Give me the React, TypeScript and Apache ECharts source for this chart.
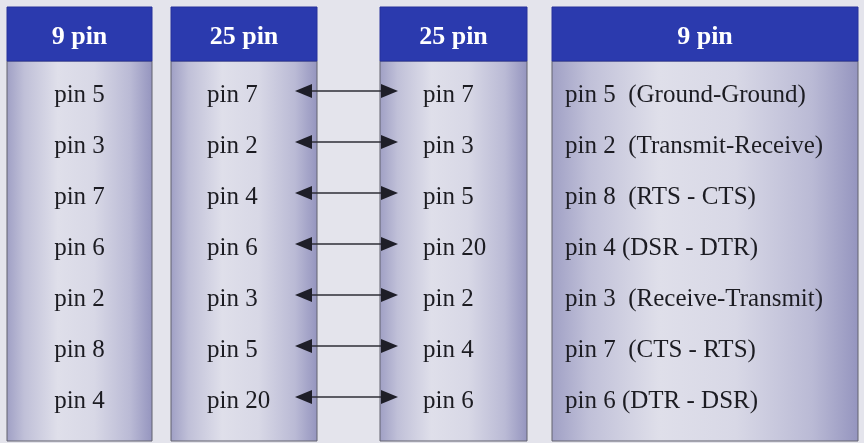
import React, { useEffect, useRef } from "react";
import * as echarts from "echarts";

const headers = ["9 pin", "25 pin", "25 pin", "9 pin"];
const nineSide = ["pin 5", "pin 3", "pin 7", "pin 6", "pin 2", "pin 8", "pin 4"];
const leftDB25 = ["pin 7", "pin 2", "pin 4", "pin 6", "pin 3", "pin 5", "pin 20"];
const rightDB25 = ["pin 7", "pin 3", "pin 5", "pin 20", "pin 2", "pin 4", "pin 6"];
const signals = [
  "pin 5  (Ground-Ground)",
  "pin 2  (Transmit-Receive)",
  "pin 8  (RTS - CTS)",
  "pin 4 (DSR - DTR)",
  "pin 3  (Receive-Transmit)",
  "pin 7  (CTS - RTS)",
  "pin 6 (DTR - DSR)",
];

const columnsText = [nineSide, leftDB25, rightDB25, signals];

const W = 864;
const H = 443;
const FONT = "'Liberation Serif', 'DejaVu Serif', serif";

const cols = [
  { x: 7, w: 145, tx: 79.5, align: "center" },
  { x: 171, w: 146, tx: 207, align: "left" },
  { x: 380, w: 147, tx: 423, align: "left" },
  { x: 552, w: 306, tx: 565, align: "left" },
];
const headTop = 7;
const headBottom = 61;
const bodyBottom = 441;
const row0 = 92;
const rowStep = 51;

function bodyGradient() {
  return new echarts.graphic.LinearGradient(0, 0, 1, 0, [
    { offset: 0, color: "#a0a0c5" },
    { offset: 0.12, color: "#c0c0d8" },
    { offset: 0.35, color: "#dfdfea" },
    { offset: 0.6, color: "#d8d8e6" },
    { offset: 0.85, color: "#babad5" },
    { offset: 1, color: "#9595bf" },
  ]);
}

export default function App() {
  const ref = useRef<HTMLDivElement>(null);
  useEffect(() => {
    if (!ref.current) return;
    const chart = echarts.init(ref.current, null, { renderer: "svg" });
    const elements: any[] = [];
    elements.push({
      type: "rect",
      shape: { x: 0, y: 0, width: W, height: H },
      style: { fill: "#e4e4ec" },
      silent: true,
    });
    cols.forEach((c, ci) => {
      elements.push({
        type: "rect",
        shape: { x: c.x, y: headBottom, width: c.w, height: bodyBottom - headBottom },
        style: { fill: bodyGradient(), stroke: "#62626f", lineWidth: 1 },
      });
      elements.push({
        type: "rect",
        shape: { x: c.x, y: headTop, width: c.w, height: headBottom - headTop },
        style: { fill: "#2b3aae", stroke: "#26319a", lineWidth: 1 },
      });
      elements.push({
        type: "text",
        x: c.x + c.w / 2,
        y: (headTop + headBottom) / 2 + 1,
        style: {
          text: headers[ci],
          fill: "#ffffff",
          font: `bold 26px ${FONT}`,
          align: "center",
          verticalAlign: "middle",
        },
      });
      columnsText[ci].forEach((t, ri) => {
        elements.push({
          type: "text",
          x: c.tx,
          y: row0 + ri * rowStep + 1,
          style: {
            text: t,
            fill: "#1c1c22",
            font: `25px ${FONT}`,
            align: c.align,
            verticalAlign: "middle",
          },
        });
      });
    });
    // connection arrows between the two 25-pin columns
    leftDB25.forEach((_, ri) => {
      const y = row0 + ri * rowStep - 1;
      elements.push({
        type: "line",
        shape: { x1: 310, y1: y, x2: 383, y2: y },
        style: { stroke: "#2e2e36", lineWidth: 1.3 },
      });
      elements.push({
        type: "polygon",
        shape: { points: [[295, y], [312, y - 7], [312, y + 7]] },
        style: { fill: "#1e1e28" },
      });
      elements.push({
        type: "polygon",
        shape: { points: [[398, y], [381, y - 7], [381, y + 7]] },
        style: { fill: "#1e1e28" },
      });
    });
    chart.setOption({ animation: false, graphic: { elements } });
    return () => chart.dispose();
  }, []);
  return (
    <div
      ref={ref}
      style={{ position: "fixed", left: 0, top: 0, width: W, height: H }}
    />
  );
}
